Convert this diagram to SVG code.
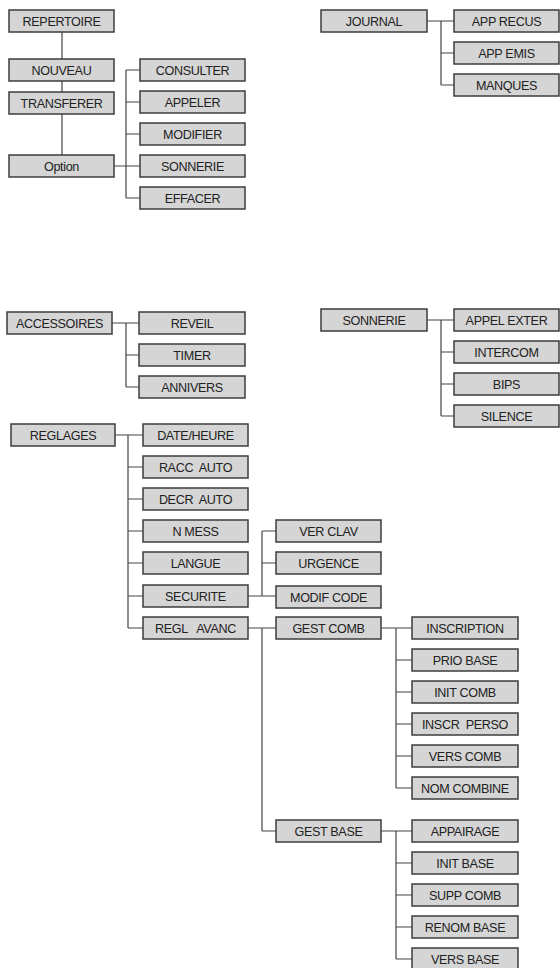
<svg xmlns="http://www.w3.org/2000/svg" width="560" height="968" viewBox="0 0 560 968">
<style>
.b rect{fill:#d5d5d5;stroke:#3c3c3c;stroke-width:1.5}
.b text{font-family:"Liberation Sans",Arial,sans-serif;font-size:12.6px;letter-spacing:-0.35px;fill:#222;text-anchor:middle;white-space:pre}
.c path{fill:none;stroke:#444;stroke-width:1.2}
</style>
<rect width="560" height="968" fill="#fff"/>
<g class="c" id="connectors">
<path d="M62 32V155"/>
<path d="M114 166H126M126 70V198M126 70H140M126 102H140M126 134H140M126 166H140M126 198H140"/>
<path d="M427 21H454M441 21V85M441 53H454M441 85H454"/>
<path d="M112 323H139M126 323V387M126 355H139M126 387H139"/>
<path d="M427 320H454M441 320V416M441 352H454M441 384H454M441 416H454"/>
<path d="M115 435H143M128 435V628M128 467H143M128 499H143M128 531H143M128 563H143M128 596H143M128 628H143"/>
<path d="M248 596H276M262 531V596M262 531H276M262 563H276"/>
<path d="M248 628H276M262 628V831M262 831H276"/>
<path d="M381 628H412M396 628V788M396 660H412M396 692H412M396 724H412M396 756H412M396 788H412"/>
<path d="M381 831H412M396 831V959M396 863H412M396 895H412M396 927H412M396 959H412"/>
</g>
<g class="b">
<g id="repertoire" transform="translate(9,10)"><rect width="105" height="22"/><text x="52.5" y="15.7">REPERTOIRE</text></g>
<g id="nouveau" transform="translate(9,59)"><rect width="105" height="22"/><text x="52.5" y="15.7">NOUVEAU</text></g>
<g id="transferer" transform="translate(9,92)"><rect width="105" height="22"/><text x="52.5" y="15.7">TRANSFERER</text></g>
<g id="option" transform="translate(9,155)"><rect width="105" height="22"/><text x="52.5" y="15.7">Option</text></g>
<g id="consulter" transform="translate(140,59)"><rect width="105" height="22"/><text x="52.5" y="15.7">CONSULTER</text></g>
<g id="appeler" transform="translate(140,91)"><rect width="105" height="22"/><text x="52.5" y="15.7">APPELER</text></g>
<g id="modifier" transform="translate(140,123)"><rect width="105" height="22"/><text x="52.5" y="15.7">MODIFIER</text></g>
<g id="sonnerie-opt" transform="translate(140,155)"><rect width="105" height="22"/><text x="52.5" y="15.7">SONNERIE</text></g>
<g id="effacer" transform="translate(140,187)"><rect width="105" height="22"/><text x="52.5" y="15.7">EFFACER</text></g>

<g id="journal" transform="translate(321,10)"><rect width="106" height="22"/><text x="53" y="15.7">JOURNAL</text></g>
<g id="app-recus" transform="translate(454,10)"><rect width="105" height="22"/><text x="52.5" y="15.7">APP RECUS</text></g>
<g id="app-emis" transform="translate(454,42)"><rect width="105" height="22"/><text x="52.5" y="15.7">APP EMIS</text></g>
<g id="manques" transform="translate(454,74)"><rect width="105" height="22"/><text x="52.5" y="15.7">MANQUES</text></g>

<g id="accessoires" transform="translate(7,312)"><rect width="105" height="22"/><text x="52.5" y="15.7">ACCESSOIRES</text></g>
<g id="reveil" transform="translate(139,312)"><rect width="106" height="22"/><text x="53" y="15.7">REVEIL</text></g>
<g id="timer" transform="translate(139,344)"><rect width="106" height="22"/><text x="53" y="15.7">TIMER</text></g>
<g id="annivers" transform="translate(139,376)"><rect width="106" height="22"/><text x="53" y="15.7">ANNIVERS</text></g>

<g id="sonnerie" transform="translate(321,309)"><rect width="106" height="22"/><text x="53" y="15.7">SONNERIE</text></g>
<g id="appel-exter" transform="translate(454,309)"><rect width="105" height="22"/><text x="52.5" y="15.7">APPEL EXTER</text></g>
<g id="intercom" transform="translate(454,341)"><rect width="105" height="22"/><text x="52.5" y="15.7">INTERCOM</text></g>
<g id="bips" transform="translate(454,373)"><rect width="105" height="22"/><text x="52.5" y="15.7">BIPS</text></g>
<g id="silence" transform="translate(454,405)"><rect width="105" height="22"/><text x="52.5" y="15.7">SILENCE</text></g>

<g id="reglages" transform="translate(11,424)"><rect width="104" height="22"/><text x="52" y="15.7">REGLAGES</text></g>
<g id="date-heure" transform="translate(143,424)"><rect width="105" height="22"/><text x="52.5" y="15.7">DATE/HEURE</text></g>
<g id="racc-auto" transform="translate(143,456)"><rect width="105" height="22"/><text x="52.5" y="15.7" xml:space="preserve">RACC  AUTO</text></g>
<g id="decr-auto" transform="translate(143,488)"><rect width="105" height="22"/><text x="52.5" y="15.7" xml:space="preserve">DECR  AUTO</text></g>
<g id="n-mess" transform="translate(143,520)"><rect width="105" height="22"/><text x="52.5" y="15.7">N MESS</text></g>
<g id="langue" transform="translate(143,552)"><rect width="105" height="22"/><text x="52.5" y="15.7">LANGUE</text></g>
<g id="securite" transform="translate(143,585)"><rect width="105" height="22"/><text x="52.5" y="15.7">SECURITE</text></g>
<g id="regl-avanc" transform="translate(143,617)"><rect width="105" height="22"/><text x="52.5" y="15.7" xml:space="preserve">REGL   AVANC</text></g>

<g id="ver-clav" transform="translate(276,520)"><rect width="105" height="22"/><text x="52.5" y="15.7">VER CLAV</text></g>
<g id="urgence" transform="translate(276,552)"><rect width="105" height="22"/><text x="52.5" y="15.7">URGENCE</text></g>
<g id="modif-code" transform="translate(276,586)"><rect width="105" height="22"/><text x="52.5" y="15.7">MODIF CODE</text></g>
<g id="gest-comb" transform="translate(276,617)"><rect width="105" height="22"/><text x="52.5" y="15.7">GEST COMB</text></g>
<g id="gest-base" transform="translate(276,820)"><rect width="105" height="22"/><text x="52.5" y="15.7">GEST BASE</text></g>

<g id="inscription" transform="translate(412,617)"><rect width="106" height="22"/><text x="53" y="15.7">INSCRIPTION</text></g>
<g id="prio-base" transform="translate(412,649)"><rect width="106" height="22"/><text x="53" y="15.7">PRIO BASE</text></g>
<g id="init-comb" transform="translate(412,681)"><rect width="106" height="22"/><text x="53" y="15.7">INIT COMB</text></g>
<g id="inscr-perso" transform="translate(412,713)"><rect width="106" height="22"/><text x="53" y="15.7" xml:space="preserve">INSCR  PERSO</text></g>
<g id="vers-comb" transform="translate(412,745)"><rect width="106" height="22"/><text x="53" y="15.7">VERS COMB</text></g>
<g id="nom-combine" transform="translate(412,777)"><rect width="106" height="22"/><text x="53" y="15.7">NOM COMBINE</text></g>

<g id="appairage" transform="translate(412,820)"><rect width="106" height="22"/><text x="53" y="15.7">APPAIRAGE</text></g>
<g id="init-base" transform="translate(412,852)"><rect width="106" height="22"/><text x="53" y="15.7">INIT BASE</text></g>
<g id="supp-comb" transform="translate(412,884)"><rect width="106" height="22"/><text x="53" y="15.7">SUPP COMB</text></g>
<g id="renom-base" transform="translate(412,916)"><rect width="106" height="22"/><text x="53" y="15.7">RENOM BASE</text></g>
<g id="vers-base" transform="translate(412,948)"><rect width="106" height="22"/><text x="53" y="15.7">VERS BASE</text></g>
</g>
</svg>
